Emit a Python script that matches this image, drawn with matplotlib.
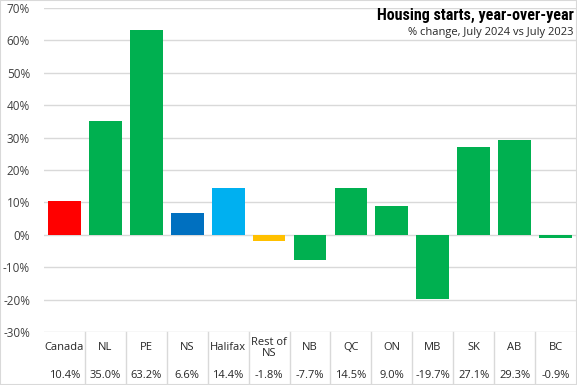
import matplotlib
matplotlib.use("Agg")
import matplotlib.pyplot as plt
from matplotlib.patches import Rectangle
from matplotlib.lines import Line2D

categories = ["Canada", "NL", "PE", "NS", "Halifax", "Rest of\nNS", "NB", "QC", "ON", "MB", "SK", "AB", "BC"]
values = [10.4, 35.0, 63.2, 6.6, 14.4, -1.8, -7.7, 14.5, 9.0, -19.7, 27.1, 29.3, -0.9]
value_labels = ["10.4%", "35.0%", "63.2%", "6.6%", "14.4%", "-1.8%", "-7.7%", "14.5%", "9.0%", "-19.7%", "27.1%", "29.3%", "-0.9%"]
colors = ["#FF0000", "#00B050", "#00B050", "#0070C0", "#00B0F0", "#FFC000", "#00B050",
          "#00B050", "#00B050", "#00B050", "#00B050", "#00B050", "#00B050"]
yticks = [-30, -20, -10, 0, 10, 20, 30, 40, 50, 60, 70]

W, H = 577, 385
fig = plt.figure(figsize=(W / 100, H / 100), dpi=100)
plt.rcParams['font.family'] = ['Open Sans', 'DejaVu Sans']

left, right, top, bottom = 44, 576, 8, 332
ax = fig.add_axes([left / W, 1 - bottom / H, (right - left) / W, (bottom - top) / H])
x = list(range(len(categories)))
ax.bar(x, values, width=0.8, color=colors, zorder=3)
ax.set_xlim(-0.5, len(categories) - 0.5)
ax.set_ylim(-30, 70)
ax.set_yticks(yticks)
ax.set_yticklabels([f"{v}%" for v in yticks], fontsize=8.5, color="#404040")
ax.tick_params(axis="y", length=0, pad=10)
ax.set_xticks([])
for s in ax.spines.values():
    s.set_visible(False)
ax.grid(axis="y", color="#D9D9D9", linewidth=1, zorder=0)
ax.set_axisbelow(True)

def fy(py):
    return 1 - py / H

for i in range(len(categories)):
    xf = (left + (i + 0.5) * (right - left) / len(categories)) / W
    fig.text(xf, fy(348), categories[i], ha="center", va="center", fontsize=8, color="#262626", linespacing=1.1)
    fig.text(xf, fy(375), value_labels[i], ha="center", va="center", fontsize=8, color="#262626")
for i in range(1, len(categories)):
    xf = (left + i * (right - left) / len(categories)) / W
    fig.add_artist(Line2D([xf, xf], [fy(332), fy(384)], color="#D9D9D9", linewidth=1))

fig.text(574 / W, fy(15), "Housing starts, year-over-year", ha="right", va="center",
         fontsize=11.5, fontweight="bold", color="#000000",
         family=["Roboto Condensed", "Liberation Sans Narrow", "Roboto", "DejaVu Sans"])
fig.text(574 / W, fy(32), "% change, July 2024 vs July 2023", ha="right", va="center",
         fontsize=8, color="#262626")

fig.add_artist(Rectangle((0, 0), 1, 1, transform=fig.transFigure, fill=False,
                         edgecolor="#D9D9D9", linewidth=1.5))
fig.savefig("out.png", dpi=100)
